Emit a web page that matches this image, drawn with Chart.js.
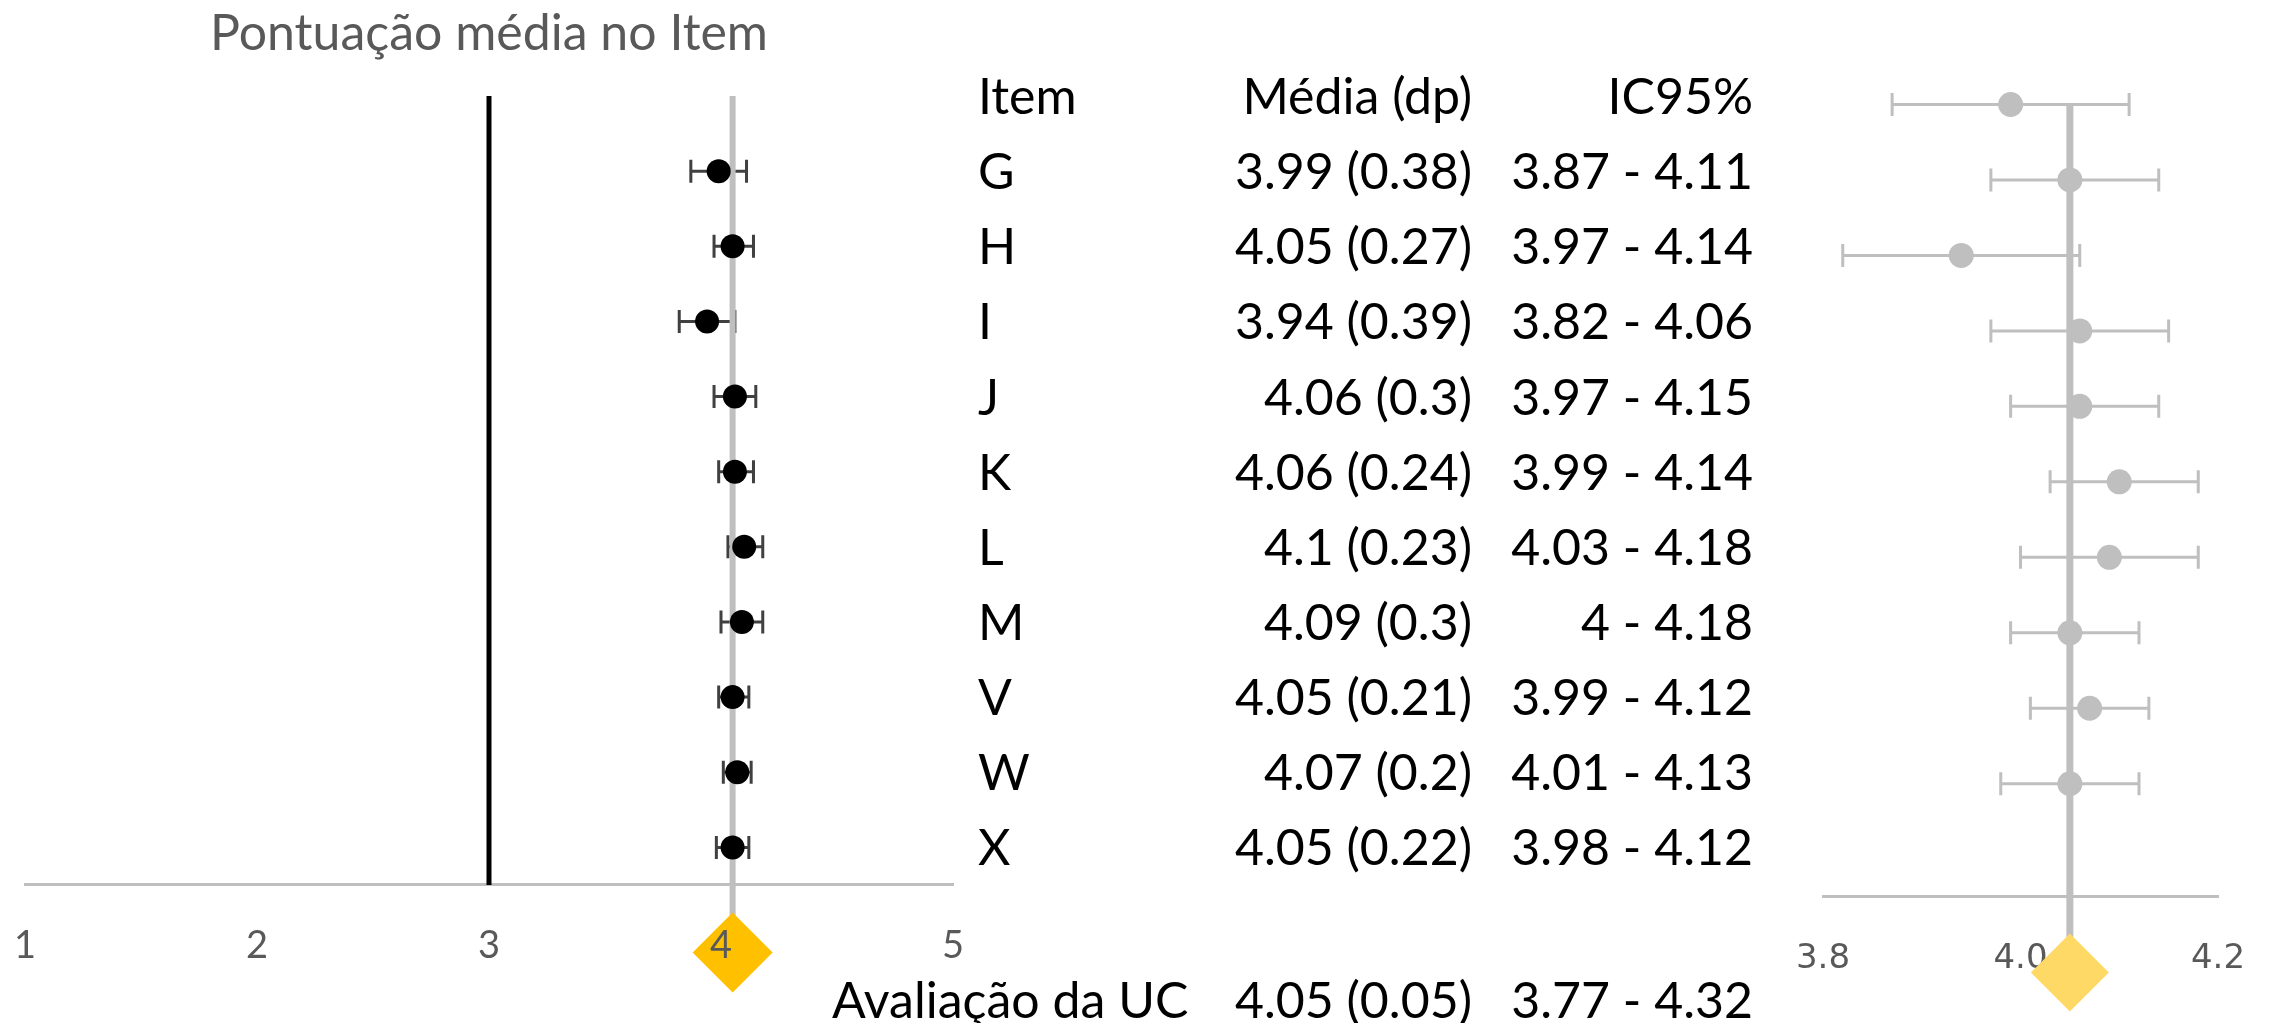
<!DOCTYPE html>
<html lang="pt">
<head>
<meta charset="utf-8">
<title>Pontuação média no Item</title>
<script src="https://cdn.jsdelivr.net/npm/chart.js@4.4.1/dist/chart.umd.min.js"></script>
<style>
    html, body { margin: 0; padding: 0; background: #fff; }
    .page { position: relative; width: 2270px; height: 1023px; overflow: hidden; }
    .page canvas { position: absolute; top: 0; }
    #leftChart { left: 0; }
    #rightChart { left: 1780px; }
    .cell {
        position: absolute;
        font-family: Lato, sans-serif;
        font-size: 50px;
        line-height: 1.2;
        color: #000;
        white-space: nowrap;
    }
</style>
</head>
<body>
<div class="page" id="page">
    <canvas id="leftChart" width="980" height="1023"></canvas>
    <canvas id="rightChart" width="490" height="1023"></canvas>
</div>
<script>
// Values
const items = ['G', 'H', 'I', 'J', 'K', 'L', 'M', 'V', 'W', 'X'];
const means = [3.99, 4.05, 3.94, 4.06, 4.06, 4.1, 4.09, 4.05, 4.07, 4.05];
const sds = [0.38, 0.27, 0.39, 0.3, 0.24, 0.23, 0.3, 0.21, 0.2, 0.22];
const ciLow = [3.87, 3.97, 3.82, 3.97, 3.99, 4.03, 4, 3.99, 4.01, 3.98];
const ciHigh = [4.11, 4.14, 4.06, 4.15, 4.14, 4.18, 4.18, 4.12, 4.13, 4.12];

const overallLabel = 'Avaliação da UC';
const overallMean = 4.05;
const overallSd = 0.05;
const overallCi = [3.77, 4.32];
const referenceValue = 3;

const headers = ['Item', 'Média (dp)', 'IC95%'];
const leftTicks = [1, 2, 3, 4, 5];
const rightTicks = [3.8, 4.0, 4.2];

// Row positions on the hidden y axes (layout, not data)
const leftRows = { top: -1, axis: 9.5, summary: 10.4, bottom: 11.337 };
const rightRows = { top: -1, axis: 10.5, summary: 11.5, bottom: 12.17 };

// Error bars drawn under the points, through the chart's own scales
function errorBars(lows, highs, color, width, capHalf) {
    return {
        id: 'errorBars',
        beforeDatasetsDraw(chart) {
            const ctx = chart.ctx;
            const xs = chart.scales.x;
            const ys = chart.scales.y;
            ctx.save();
            ctx.strokeStyle = color;
            ctx.lineWidth = width;
            lows.forEach((lo, i) => {
                const py = ys.getPixelForValue(i);
                const x1 = xs.getPixelForValue(lo);
                const x2 = xs.getPixelForValue(highs[i]);
                ctx.beginPath();
                ctx.moveTo(x1, py);
                ctx.lineTo(x2, py);
                ctx.moveTo(x1, py - capHalf);
                ctx.lineTo(x1, py + capHalf);
                ctx.moveTo(x2, py - capHalf);
                ctx.lineTo(x2, py + capHalf);
                ctx.stroke();
            });
            ctx.restore();
        }
    };
}

// x axis sits inside the plot at a y value; no extra side padding for labels
function fitAxis(s) {
    s.height = 0;
    s.paddingLeft = 0;
    s.paddingRight = 0;
}

const common = {
    responsive: false,
    animation: false,
    events: [],
    plugins: {
        legend: { display: false },
        tooltip: { enabled: false }
    }
};

// Left panel: mean score per item on the 1-5 scale
const leftChart = new Chart(document.getElementById('leftChart'), {
    type: 'scatter',
    data: {
        datasets: [
            {
                data: [{ x: referenceValue, y: leftRows.top }, { x: referenceValue, y: leftRows.axis }],
                showLine: true,
                borderColor: '#000000',
                borderWidth: 5,
                pointRadius: 0,
                order: 3
            },
            {
                data: [{ x: overallMean, y: leftRows.top }, { x: overallMean, y: leftRows.summary }],
                showLine: true,
                borderColor: '#bfbfbf',
                borderWidth: 6,
                pointRadius: 0,
                order: 2
            },
            {
                data: means.map((m, i) => ({ x: m, y: i })),
                pointRadius: 12,
                pointBackgroundColor: '#000000',
                pointBorderWidth: 0,
                order: 1
            },
            {
                data: [{ x: overallMean, y: leftRows.summary }],
                pointStyle: 'rectRot',
                pointRadius: 40,
                pointBackgroundColor: '#ffc000',
                pointBorderWidth: 0,
                order: 0
            }
        ]
    },
    options: {
        ...common,
        layout: { autoPadding: false, padding: { left: 25, right: 27, top: 0, bottom: 0 } },
        plugins: {
            ...common.plugins,
            title: {
                display: true,
                text: 'Pontuação média no Item',
                color: '#595959',
                font: { family: 'Lato', size: 50, weight: 'normal' },
                padding: { top: 4, bottom: 32 }
            }
        },
        scales: {
            x: {
                type: 'linear',
                position: { y: leftRows.axis },
                min: leftTicks[0],
                max: leftTicks[leftTicks.length - 1],
                afterBuildTicks: s => { s.ticks = leftTicks.map(v => ({ value: v })); },
                ticks: {
                    z: 1,
                    color: '#595959',
                    font: { family: 'Lato', size: 38 },
                    padding: 38
                },
                grid: { display: false, drawTicks: false },
                border: { color: '#bfbfbf', width: 3 },
                afterFit: fitAxis
            },
            y: {
                type: 'linear',
                min: leftRows.top,
                max: leftRows.bottom,
                reverse: true,
                display: false
            }
        }
    },
    plugins: [errorBars(ciLow, ciHigh, '#404040', 3, 11.5)]
});

// Right panel: 95% confidence intervals, zoomed scale
new Chart(document.getElementById('rightChart'), {
    type: 'scatter',
    data: {
        datasets: [
            {
                data: [{ x: overallMean, y: 0 }, { x: overallMean, y: rightRows.summary }],
                showLine: true,
                borderColor: '#bfbfbf',
                borderWidth: 7,
                pointRadius: 0,
                order: 2
            },
            {
                data: means.map((m, i) => ({ x: m, y: i })),
                pointRadius: 12.5,
                pointBackgroundColor: '#bfbfbf',
                pointBorderWidth: 0,
                order: 1
            },
            {
                data: [{ x: overallMean, y: rightRows.summary }],
                pointStyle: 'rectRot',
                pointRadius: 39,
                pointBackgroundColor: '#ffd966',
                pointBorderWidth: 0,
                order: 0
            }
        ]
    },
    options: {
        ...common,
        layout: { autoPadding: false, padding: { left: 43, right: 52, top: 29, bottom: 0 } },
        scales: {
            x: {
                type: 'linear',
                position: { y: rightRows.axis },
                min: rightTicks[0],
                max: rightTicks[rightTicks.length - 1],
                afterBuildTicks: s => { s.ticks = rightTicks.map(v => ({ value: v })); },
                ticks: {
                    color: '#595959',
                    font: { family: 'DejaVu Sans', size: 34 },
                    padding: 42,
                    callback: v => Number(v).toFixed(1)
                },
                grid: { display: false, drawTicks: false },
                border: { color: '#bfbfbf', width: 3 },
                afterFit: fitAxis
            },
            y: {
                type: 'linear',
                min: rightRows.top,
                max: rightRows.bottom,
                reverse: true,
                display: false
            }
        }
    },
    plugins: [errorBars(ciLow, ciHigh, '#bfbfbf', 3, 11.5)]
});

// Middle table, rows lined up with the left chart's y scale
const page = document.getElementById('page');
const colItemLeft = 978;
const colMeanRight = 2270 - 1472;
const colCiRight = 2270 - 1753;

function addCell(text, top, side, pos) {
    const div = document.createElement('div');
    div.className = 'cell';
    div.textContent = text;
    div.style.top = (top - 31) + 'px';
    div.style[side] = pos + 'px';
    page.appendChild(div);
}

const yScale = leftChart.scales.y;
const headerY = yScale.getPixelForValue(-1);
addCell(headers[0], headerY, 'left', colItemLeft);
addCell(headers[1], headerY, 'right', colMeanRight);
addCell(headers[2], headerY, 'right', colCiRight);

items.forEach((item, i) => {
    const y = yScale.getPixelForValue(i);
    addCell(item, y, 'left', colItemLeft);
    addCell(means[i] + ' (' + sds[i] + ')', y, 'right', colMeanRight);
    addCell(ciLow[i] + ' - ' + ciHigh[i], y, 'right', colCiRight);
});

const summaryY = 1000;
addCell(overallLabel, summaryY, 'left', 832);
addCell(overallMean + ' (' + overallSd + ')', summaryY, 'right', colMeanRight);
addCell(overallCi[0] + ' - ' + overallCi[1], summaryY, 'right', colCiRight);
</script>
</body>
</html>
